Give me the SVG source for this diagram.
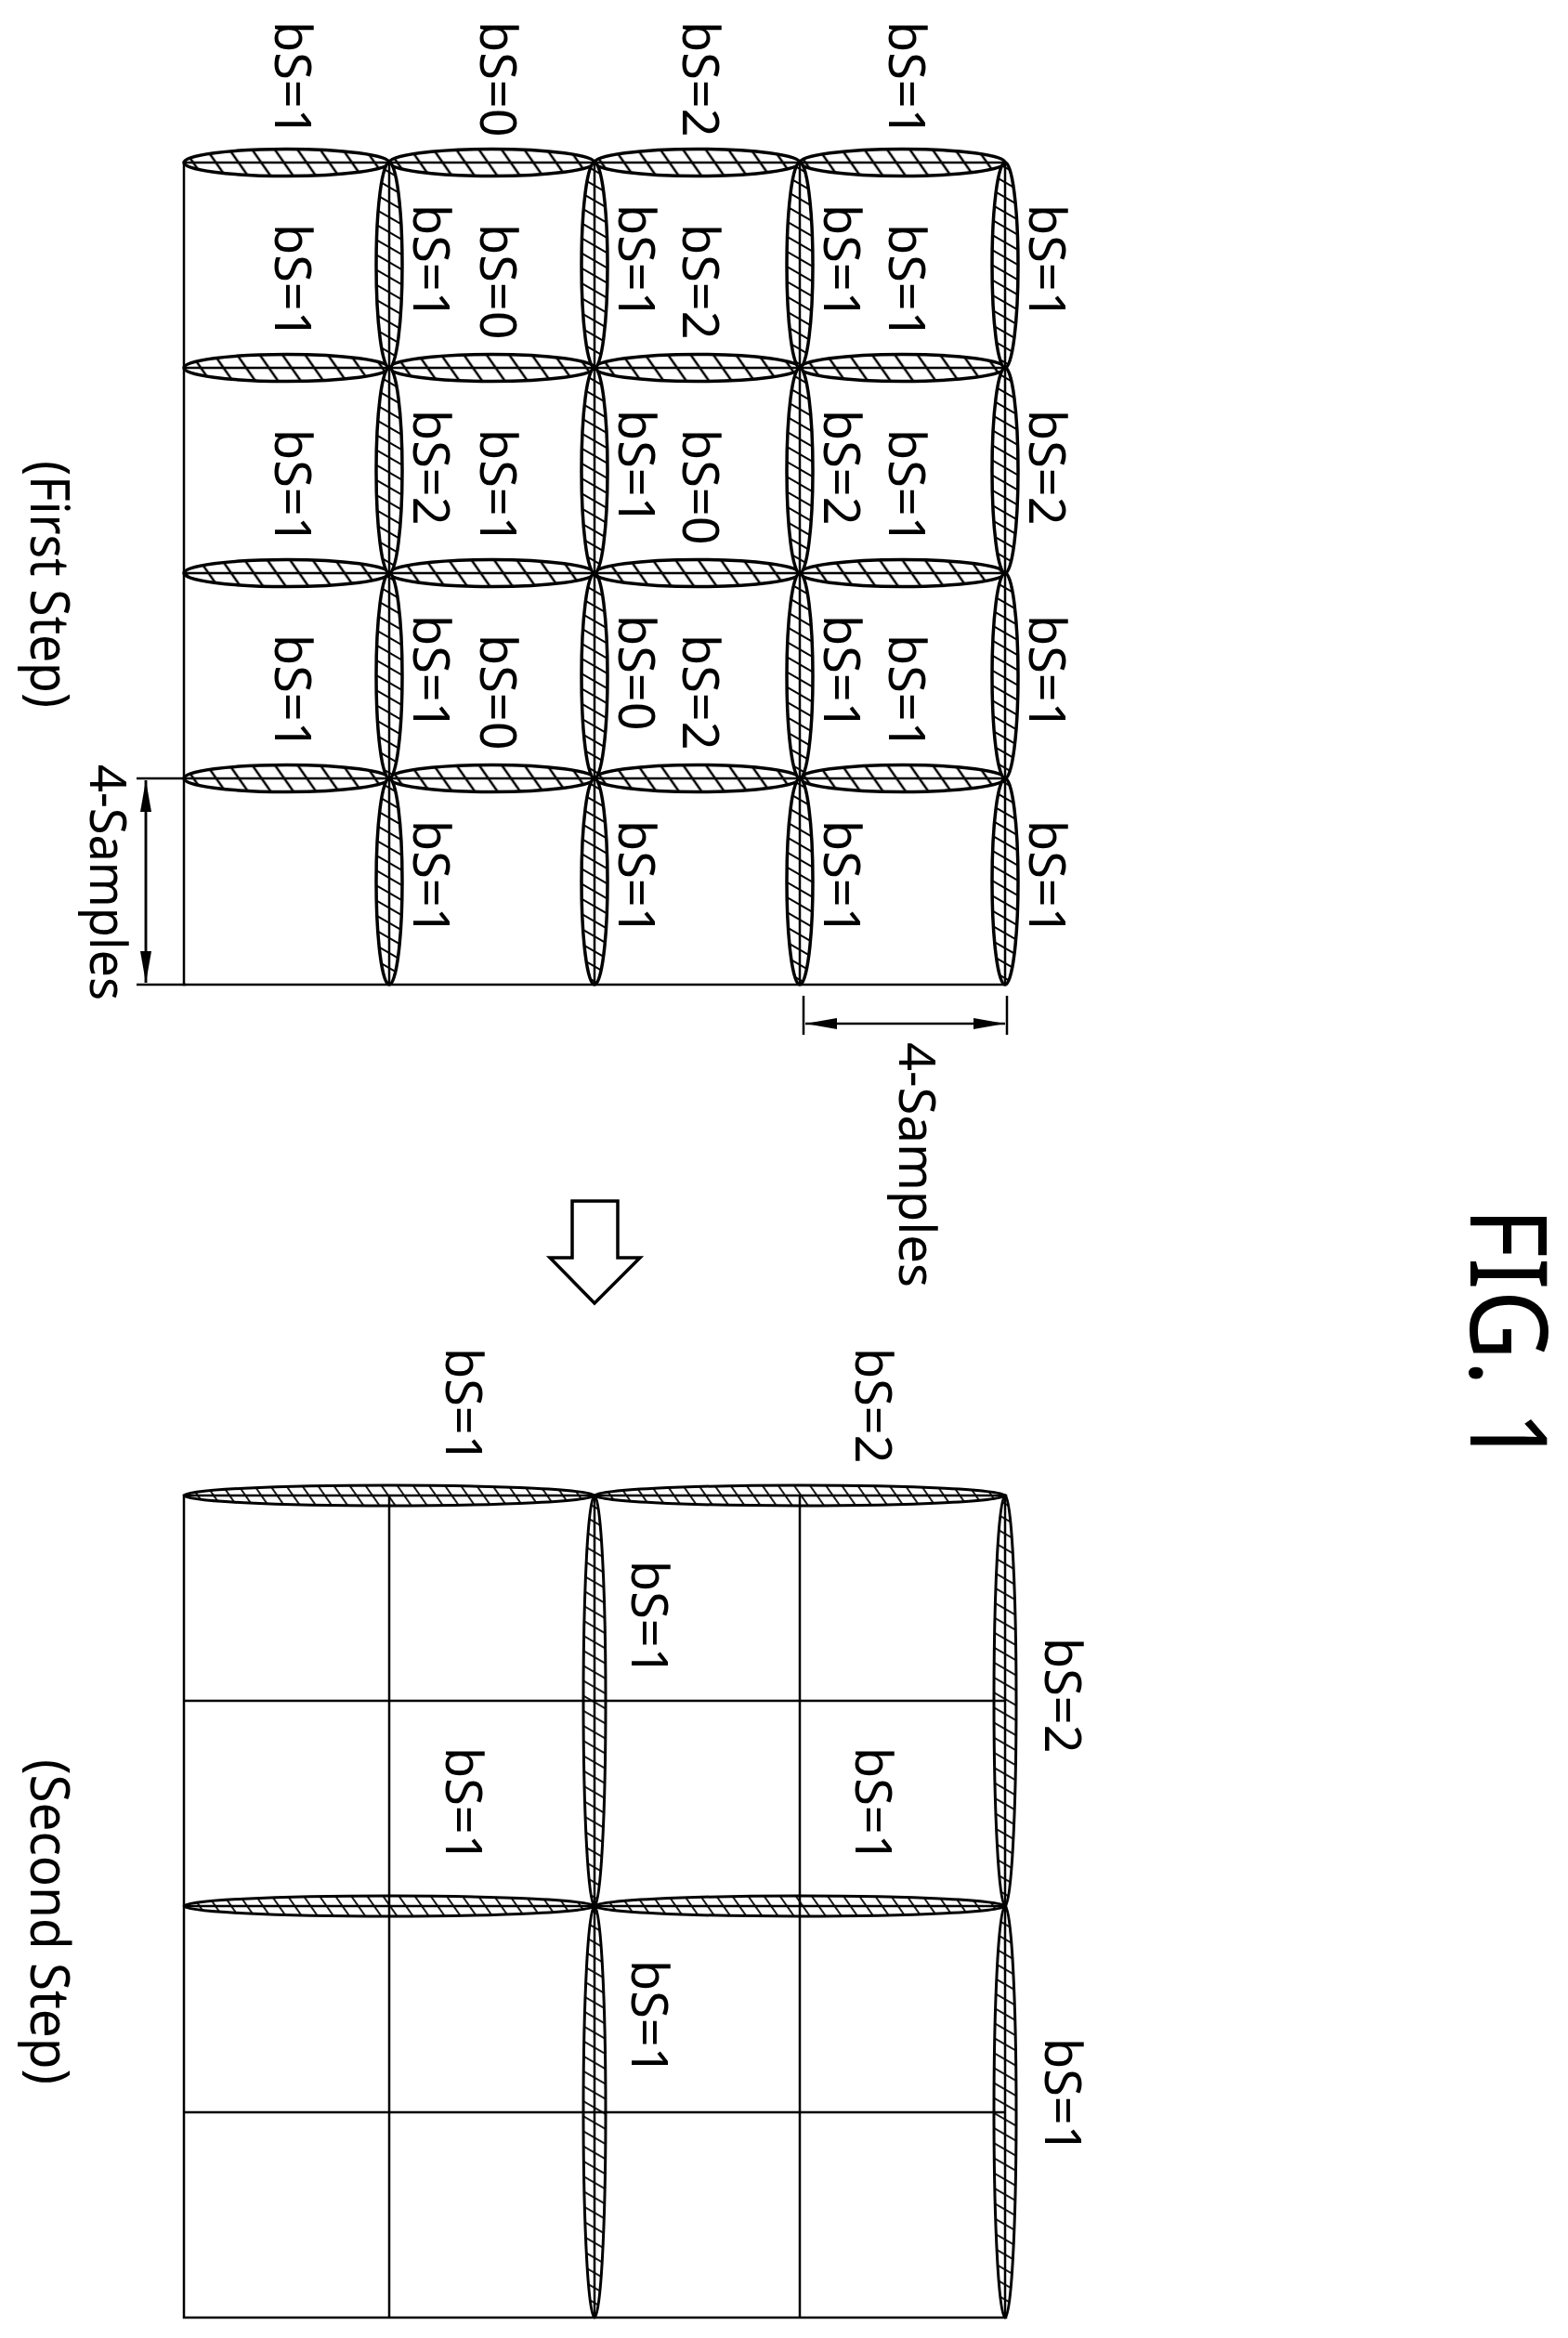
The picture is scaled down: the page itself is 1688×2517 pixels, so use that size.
<svg xmlns="http://www.w3.org/2000/svg" width="1688" height="2517" viewBox="0 0 1688 2517">
<style>
.g{fill:none;stroke:#000;stroke-width:2.5}
.lh{fill:url(#hh);stroke:#000;stroke-width:3.5}
.lv{fill:url(#hv);stroke:#000;stroke-width:3.5}
.lh2{fill:url(#hh2);stroke:#000;stroke-width:3}
.lv2{fill:url(#hv2);stroke:#000;stroke-width:3}
text{font-family:"Noto Sans","DejaVu Sans",sans-serif;fill:#000}
.t{font-size:54px}
</style>
<defs>
<pattern id="hh" patternUnits="userSpaceOnUse" width="20" height="20" patternTransform="rotate(-35)"><rect width="20" height="20" fill="#fff"/><line x1="10" y1="0" x2="10" y2="20" stroke="#000" stroke-width="2.5"/></pattern>
<pattern id="hv" patternUnits="userSpaceOnUse" width="14" height="14" patternTransform="rotate(30)"><rect width="14" height="14" fill="#fff"/><line x1="0" y1="7" x2="14" y2="7" stroke="#000" stroke-width="2"/></pattern>
<pattern id="hh2" patternUnits="userSpaceOnUse" width="14" height="14" patternTransform="rotate(-35)"><rect width="14" height="14" fill="#fff"/><line x1="7" y1="0" x2="7" y2="14" stroke="#000" stroke-width="1.8"/></pattern>
<pattern id="hv2" patternUnits="userSpaceOnUse" width="14" height="14" patternTransform="rotate(30)"><rect width="14" height="14" fill="#fff"/><line x1="0" y1="7" x2="14" y2="7" stroke="#000" stroke-width="1.8"/></pattern>
<marker id="ah" viewBox="0 0 34 12" refX="34" refY="6" markerWidth="34" markerHeight="12" markerUnits="userSpaceOnUse" orient="auto"><path d="M0,0 L34,6 L0,12 Z" fill="#000"/></marker>
</defs>

<g id="first-step-grid">
<rect class="g" x="198" y="175" width="884" height="885"/>
<g id="h-lenses-1">
<ellipse class="lh" cx="308.5" cy="175" rx="110.5" ry="14.5"/><ellipse class="lh" cx="529.5" cy="175" rx="110.5" ry="14.5"/><ellipse class="lh" cx="750.5" cy="175" rx="110.5" ry="14.5"/><ellipse class="lh" cx="971.5" cy="175" rx="110.5" ry="14.5"/>
<ellipse class="lh" cx="308.5" cy="396" rx="110.5" ry="14.5"/><ellipse class="lh" cx="529.5" cy="396" rx="110.5" ry="14.5"/><ellipse class="lh" cx="750.5" cy="396" rx="110.5" ry="14.5"/><ellipse class="lh" cx="971.5" cy="396" rx="110.5" ry="14.5"/>
<ellipse class="lh" cx="308.5" cy="617" rx="110.5" ry="14.5"/><ellipse class="lh" cx="529.5" cy="617" rx="110.5" ry="14.5"/><ellipse class="lh" cx="750.5" cy="617" rx="110.5" ry="14.5"/><ellipse class="lh" cx="971.5" cy="617" rx="110.5" ry="14.5"/>
<ellipse class="lh" cx="308.5" cy="838" rx="110.5" ry="14.5"/><ellipse class="lh" cx="529.5" cy="838" rx="110.5" ry="14.5"/><ellipse class="lh" cx="750.5" cy="838" rx="110.5" ry="14.5"/><ellipse class="lh" cx="971.5" cy="838" rx="110.5" ry="14.5"/>
</g>
<g id="v-lenses-1">
<ellipse class="lv" cx="419" cy="285.5" rx="14" ry="110.5"/><ellipse class="lv" cx="640" cy="285.5" rx="14" ry="110.5"/><ellipse class="lv" cx="861" cy="285.5" rx="14" ry="110.5"/><ellipse class="lv" cx="1082" cy="285.5" rx="14" ry="110.5"/>
<ellipse class="lv" cx="419" cy="506.5" rx="14" ry="110.5"/><ellipse class="lv" cx="640" cy="506.5" rx="14" ry="110.5"/><ellipse class="lv" cx="861" cy="506.5" rx="14" ry="110.5"/><ellipse class="lv" cx="1082" cy="506.5" rx="14" ry="110.5"/>
<ellipse class="lv" cx="419" cy="727.5" rx="14" ry="110.5"/><ellipse class="lv" cx="640" cy="727.5" rx="14" ry="110.5"/><ellipse class="lv" cx="861" cy="727.5" rx="14" ry="110.5"/><ellipse class="lv" cx="1082" cy="727.5" rx="14" ry="110.5"/>
<ellipse class="lv" cx="419" cy="949" rx="14" ry="111"/><ellipse class="lv" cx="640" cy="949" rx="14" ry="111"/><ellipse class="lv" cx="861" cy="949" rx="14" ry="111"/><ellipse class="lv" cx="1082" cy="949" rx="14" ry="111"/>
</g>
<path class="g" d="M198,175H1082M198,396H1082M198,617H1082M198,838H1082M419,175V1060M640,175V1060M861,175V1060M1082,175V1060"/>
</g>

<g id="first-step-labels" class="t">
<text transform="translate(296,23) rotate(90)">bS=1</text>
<text transform="translate(517,23) rotate(90)">bS=0</text>
<text transform="translate(735,23) rotate(90)">bS=2</text>
<text transform="translate(957,23) rotate(90)">bS=1</text>

<text transform="translate(296,241) rotate(90)">bS=1</text>
<text transform="translate(517,241) rotate(90)">bS=0</text>
<text transform="translate(735,241) rotate(90)">bS=2</text>
<text transform="translate(957,241) rotate(90)">bS=1</text>
<text transform="translate(296,462) rotate(90)">bS=1</text>
<text transform="translate(517,462) rotate(90)">bS=1</text>
<text transform="translate(735,462) rotate(90)">bS=0</text>
<text transform="translate(957,462) rotate(90)">bS=1</text>
<text transform="translate(296,683) rotate(90)">bS=1</text>
<text transform="translate(517,683) rotate(90)">bS=0</text>
<text transform="translate(735,683) rotate(90)">bS=2</text>
<text transform="translate(957,683) rotate(90)">bS=1</text>

<text transform="translate(445,220) rotate(90)">bS=1</text>
<text transform="translate(666,220) rotate(90)">bS=1</text>
<text transform="translate(887,220) rotate(90)">bS=1</text>
<text transform="translate(1108,220) rotate(90)">bS=1</text>
<text transform="translate(445,441) rotate(90)">bS=2</text>
<text transform="translate(666,441) rotate(90)">bS=1</text>
<text transform="translate(887,441) rotate(90)">bS=2</text>
<text transform="translate(1108,441) rotate(90)">bS=2</text>
<text transform="translate(445,662) rotate(90)">bS=1</text>
<text transform="translate(666,662) rotate(90)">bS=0</text>
<text transform="translate(887,662) rotate(90)">bS=1</text>
<text transform="translate(1108,662) rotate(90)">bS=1</text>
<text transform="translate(445,883) rotate(90)">bS=1</text>
<text transform="translate(666,883) rotate(90)">bS=1</text>
<text transform="translate(887,883) rotate(90)">bS=1</text>
<text transform="translate(1108,883) rotate(90)">bS=1</text>
</g>

<g id="dimensions">
<path d="M147,838H200M147,1060H200M157,840V1058" fill="none" stroke="#000" stroke-width="2.5"/>
<line x1="157" y1="950" x2="157" y2="840" stroke="#000" stroke-width="2.5" marker-end="url(#ah)"/>
<line x1="157" y1="950" x2="157" y2="1058" stroke="#000" stroke-width="2.5" marker-end="url(#ah)"/>
<path d="M865,1072V1114M1084,1072V1114" fill="none" stroke="#000" stroke-width="2.5"/>
<line x1="975" y1="1102" x2="867" y2="1102" stroke="#000" stroke-width="2.5" marker-end="url(#ah)"/>
<line x1="975" y1="1102" x2="1082" y2="1102" stroke="#000" stroke-width="2.5" marker-end="url(#ah)"/>
<text transform="translate(97,823) rotate(90)" font-size="54" textLength="254" lengthAdjust="spacingAndGlyphs">4-Samples</text>
<text transform="translate(968,1122) rotate(90)" font-size="54" textLength="264" lengthAdjust="spacingAndGlyphs">4-Samples</text>
<text transform="translate(33,496) rotate(90)" font-size="58" textLength="266" lengthAdjust="spacingAndGlyphs">(First Step)</text>
</g>

<g id="step-arrow">
<path d="M616,1293H665V1354H689L640,1403L592,1354H616Z" fill="#fff" stroke="#000" stroke-width="3.5" stroke-linejoin="miter"/>
</g>

<g id="second-step-grid">
<rect class="g" x="198" y="1610" width="885" height="885"/>
<ellipse class="lh2" cx="419" cy="1610" rx="221" ry="11"/><ellipse class="lh2" cx="861" cy="1610" rx="221" ry="11"/>
<ellipse class="lh2" cx="419" cy="2052" rx="221" ry="11"/><ellipse class="lh2" cx="861" cy="2052" rx="221" ry="11"/>
<ellipse class="lv2" cx="640" cy="1831" rx="12" ry="221"/><ellipse class="lv2" cx="640" cy="2273.5" rx="12" ry="221.5"/>
<ellipse class="lv2" cx="1082" cy="1831" rx="12" ry="221"/><ellipse class="lv2" cx="1082" cy="2273.5" rx="12" ry="221.5"/>
<path class="g" d="M198,1610H1083M198,1831H1083M198,2052H1083M198,2274H1083M419,1610V2495M640,1610V2495M861,1610V2495M1082,1610V2495"/>
</g>

<g id="second-step-labels" class="t">
<text transform="translate(480,1451) rotate(90)">bS=1</text>
<text transform="translate(921,1451) rotate(90)">bS=2</text>
<text transform="translate(680,1680) rotate(90)">bS=1</text>
<text transform="translate(1125,1763) rotate(90)">bS=2</text>
<text transform="translate(480,1881) rotate(90)">bS=1</text>
<text transform="translate(921,1881) rotate(90)">bS=1</text>
<text transform="translate(680,2110) rotate(90)">bS=1</text>
<text transform="translate(1125,2194) rotate(90)">bS=1</text>
<text transform="translate(33,1894) rotate(90)" font-size="58" textLength="350" lengthAdjust="spacingAndGlyphs">(Second Step)</text>
</g>

<g id="title">
<text transform="translate(1583,1300) rotate(90)" font-size="116" textLength="278" lengthAdjust="spacingAndGlyphs">FIG. 1</text>
</g>
</svg>
